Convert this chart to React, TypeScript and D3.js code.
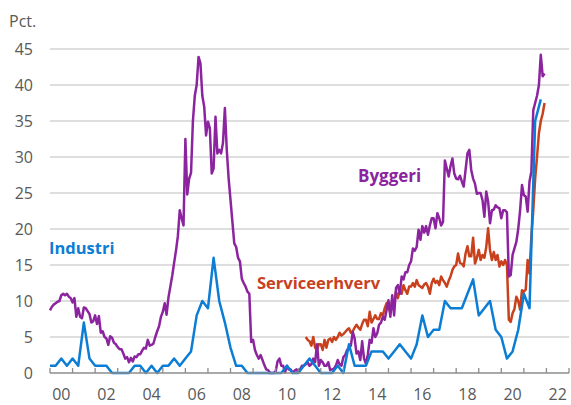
import * as d3 from 'd3';

// Industri: quarterly, 2000Q1 - 2021Q4
const industri = [
  1, 1, 2, 1, 2, 1, 7, 2, 1, 1, 1, 0, 0, 0, 0, 1, 1, 0, 1, 0, 1, 1, 2, 1,
  2, 3, 8, 10, 9, 16, 10, 7, 3.5, 1, 1, 0, 0, 0, 0, 0, 0, 0, 1, 0, 0, 1, 2, 1,
  0, 0, 0, 1, 0, 4, 1, 1, 1, 3, 3, 3, 2, 3, 4, 3, 2, 4, 8, 5, 6, 6, 10, 9,
  9, 9, 11, 13, 8, 9, 10, 6, 5, 2, 3, 6, 11, 9, 35, 38,
];

// Byggeri: monthly, 2000-01 - 2021-12
const byggeri = [
  8.7, 9.2, 9.5, 9.7, 9.9, 10.0, 10.8, 11.0, 10.8, 11.0, 10.6, 10.4,
  9.8, 10.4, 7.8, 9.0, 7.8, 7.6, 9.1, 9.0, 8.6, 8.2, 7.0, 7.2,
  8.0, 6.8, 7.9, 5.6, 5.8, 5.0, 4.8, 3.9, 5.1, 4.9, 4.2, 4.0,
  3.6, 3.3, 3.3, 2.7, 2.0, 2.2, 1.5, 2.1, 1.6, 2.3, 2.2, 2.6,
  2.6, 3.1, 3.5, 3.4, 4.6, 3.8, 3.9, 4.1, 5.0, 5.8, 6.5, 7.8,
  8.5, 9.7, 8.1, 10.5, 12.0, 13.5, 15.3, 17.0, 19.0, 22.6, 21.5, 20.5,
  32.5, 24.8, 27.0, 27.8, 35.0, 38.5, 40.0, 43.9, 43.0, 38.5, 37.0, 33.0,
  34.9, 34.0, 27.7, 28.4, 35.6, 30.5, 31.0, 30.5, 32.0, 36.8, 31.0, 27.0,
  24.0, 21.0, 18.0, 17.5, 16.0, 15.5, 13.1, 12.5, 12.0, 11.3, 11.0, 4.3,
  4.6, 3.2, 2.5, 2.0, 2.5, 1.8, 1.1, 0.5, 0.4, 0.0, 0.0, 0.0,
  0.2, 1.6, 2.0, 1.0, 1.0, 0.1, 1.0, 0.5, 0.5, 0.0, 0.3, 0.5,
  0.2, 0.5, 1.0, 1.0, 1.2, 1.5, 1.0, 1.2, 2.0, 1.5, 4.0, 1.0,
  1.8, 1.5, 1.0, 1.0, 1.5, 0.4, 0.5, 0.6, 1.0, 1.8, 1.2, 1.0,
  2.2, 2.5, 3.2, 3.5, 3.8, 5.7, 4.8, 2.7, 3.0, 1.8, 4.4, 2.0,
  1.3, 2.5, 4.6, 4.2, 6.2, 5.0, 5.5, 6.7, 7.0, 7.8, 7.4, 8.75,
  10.1, 7.8, 10.8, 8.0, 11.8, 12.2, 11.0, 13.4, 13.0, 14.0, 14.0, 15.0,
  15.5, 17.3, 17.0, 17.5, 19.9, 18.5, 20.4, 19.5, 20.4, 19.2, 20.5, 21.5,
  21.5, 20.1, 22.2, 21.5, 20.5, 21.0, 29.5, 28.4, 27.3, 28.75, 29.8, 27.7,
  27.0, 26.9, 27.4, 26.6, 25.9, 28.2, 30.5, 31.0, 28.2, 27.0, 26.3, 24.9,
  25.0, 25.0, 24.0, 21.7, 25.2, 23.8, 20.8, 22.6, 22.7, 23.3, 23.0, 22.9,
  21.5, 22.6, 22.6, 22.3, 13.4, 13.6, 16.4, 17.3, 18.2, 20.0, 22.6, 26.1,
  24.7, 24.5, 22.4, 26.6, 28.0, 36.5, 37.5, 38.5, 40.0, 44.2, 41.2, 41.6,
];

// Serviceerhverv: monthly, 2011-05 - 2021-12
const serviceStart = 2011 + 4 / 12;
const service = [
  5.0, 4.6, 4.4, 3.8, 5.0, 3.5, 3.2, 4.0,
  4.0, 3.2, 4.6, 3.5, 4.6, 4.8, 4.3, 5.0, 4.6, 5.0, 5.6, 5.2,
  5.4, 5.7, 6.0, 6.2, 5.6, 5.8, 6.3, 6.7, 6.3, 6.0, 6.8, 7.4,
  7.4, 6.5, 8.5, 7.0, 7.5, 8.0, 7.5, 7.5, 8.3, 8.0, 9.0, 9.7,
  9.0, 8.5, 10.1, 9.5, 11.3, 10.4, 11.5, 11.0, 12.2, 11.5, 11.0, 12.0,
  12.0, 12.5, 12.0, 12.9, 12.2, 12.0, 11.8, 12.3, 12.5, 12.0, 11.0, 12.5,
  13.1, 12.5, 12.8, 12.2, 13.4, 12.9, 12.5, 12.0, 12.8, 13.4, 14.3, 14.8,
  15.0, 16.6, 15.3, 15.2, 14.8, 16.6, 17.6, 16.2, 16.2, 18.8, 15.2, 16.0,
  17.1, 15.7, 16.4, 16.0, 17.5, 20.1, 17.0, 15.7, 16.8, 15.7, 16.4, 14.8,
  15.5, 15.0, 15.7, 15.0, 7.4, 7.1, 8.3, 8.9, 10.6, 10.0, 8.8, 11.5,
  11.3, 11.6, 15.7, 13.8, 19.0, 22.6, 27.0, 30.0, 33.3, 35.0, 36.0, 37.5,
];

const yTicks = [0, 5, 10, 15, 20, 25, 30, 35, 40, 45];
const yearTicks = d3.range(2000, 2024);
const yearLabels = ['00', '02', '04', '06', '08', '10', '12', '14', '16', '18', '20', '22'];

const W = 571;
const H = 405;
const FONT = '"Open Sans", "Noto Sans", sans-serif';
const PURPLE = '#8c249f';
const BLUE = '#0b7dd4';
const ORANGE = '#c8401c';

export default function App() {
  const x = d3.scaleLinear().domain([2000, 2023]).range([50, 569]);
  const y = d3.scaleLinear().domain([0, 45]).range([373, 49]);

  const line = d3
    .line<[number, number]>()
    .x((d) => x(d[0]))
    .y((d) => y(d[1]));

  const indPts = industri.map((v, i) => [2000 + i / 4, v] as [number, number]);
  const bygPts = byggeri.map((v, i) => [2000 + i / 12, v] as [number, number]);
  const srvPts = service.map((v, i) => [serviceStart + i / 12, v] as [number, number]);

  return (
    <svg
      width={W}
      height={H}
      style={{ position: 'absolute', left: 0, top: 0, background: '#fff' }}
      fontFamily={FONT}
    >
      {yTicks.slice(1).map((t) => (
        <line key={t} x1={50} x2={569} y1={y(t)} y2={y(t)} stroke="#d3d3d3" strokeWidth={1.3} />
      ))}
      {yTicks.map((t) => (
        <text key={t} x={33} y={y(t)} textAnchor="end" dominantBaseline="central" fontSize={16} fill="#595959">
          {t}
        </text>
      ))}
      <text x={9} y={27} fontSize={16} fill="#595959">
        Pct.
      </text>

      <path d={line(srvPts) ?? ''} fill="none" stroke={ORANGE} strokeWidth={2.5} strokeLinejoin="round" />
      <path d={line(bygPts) ?? ''} fill="none" stroke={PURPLE} strokeWidth={2.5} strokeLinejoin="round" />
      <path d={line(indPts) ?? ''} fill="none" stroke={BLUE} strokeWidth={2.5} strokeLinejoin="round" />

      <line x1={50} x2={569} y1={y(0)} y2={y(0)} stroke="#8c8c8c" strokeWidth={1.3} />
      {yearTicks.map((yr) => (
        <line key={yr} x1={x(yr)} x2={x(yr)} y1={y(0)} y2={y(0) - 5} stroke="#8c8c8c" strokeWidth={1.3} />
      ))}
      {yearLabels.map((l, i) => (
        <text key={l} x={x(2000 + i * 2 + 0.5)} y={400} textAnchor="middle" fontSize={16} fill="#595959">
          {l}
        </text>
      ))}

      <text x={49} y={254} fontSize={16.5} fontWeight="bold" fill={BLUE}>
        Industri
      </text>
      <text x={358} y={182} fontSize={17} fontWeight="bold" fill={PURPLE}>
        Byggeri
      </text>
      <text x={257} y={289} fontSize={16.5} fontWeight="bold" fill={ORANGE}>
        Serviceerhverv
      </text>
    </svg>
  );
}
